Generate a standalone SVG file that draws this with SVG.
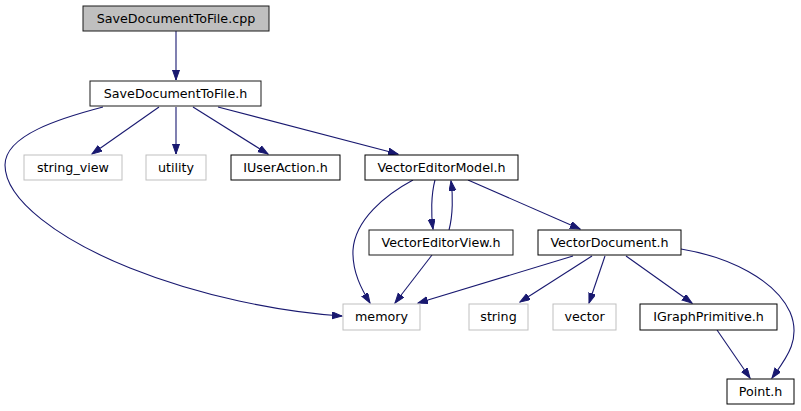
<svg xmlns="http://www.w3.org/2000/svg" width="801" height="411" viewBox="0 0 801 411">
<style>
.n rect{fill:#ffffff;stroke:#000000;stroke-width:1}
.n.g rect{stroke:#bfbfbf}
.n.d rect{stroke:#1a1a1a}
.n.s rect{fill:#bfbfbf;stroke:#1a1a1a}
.n text{font-family:"DejaVu Sans",sans-serif;font-size:12.7px;fill:#000000;text-anchor:middle}
.e path{fill:none;stroke:#191970;stroke-width:1.1}
</style>
<defs>
<marker id="a" markerUnits="userSpaceOnUse" markerWidth="11" markerHeight="8" refX="10" refY="3.5" orient="auto">
<path d="M0,0 L10,3.5 L0,7 z" fill="#191970" stroke="#191970" stroke-width="1"/>
</marker>
</defs>
<rect width="801" height="411" fill="#ffffff"/>
<g id="edges" class="e">
<path marker-end="url(#a)" d="M176,31 L176,80"/>
<path marker-end="url(#a)" d="M159,107 L92,154"/>
<path marker-end="url(#a)" d="M176,107 L176,154"/>
<path marker-end="url(#a)" d="M193,107 L268,154"/>
<path marker-end="url(#a)" d="M218,107 L398,154"/>
<path marker-end="url(#a)" d="M103,107 C61,118 5,135 5,165 C5,200 60,240 130,268 C200,296 280,312 342,316"/>
<path marker-end="url(#a)" d="M413,180 C385,195 355,220 353,250 C352,272 362,290 370,303"/>
<path marker-end="url(#a)" d="M435,180 C431,195 431,215 433,229"/>
<path marker-end="url(#a)" d="M449,230 C453,215 453,195 451,181"/>
<path marker-end="url(#a)" d="M468,180 L580,229"/>
<path marker-end="url(#a)" d="M432,255 L395,303"/>
<path marker-end="url(#a)" d="M573,256 L418,303"/>
<path marker-end="url(#a)" d="M592,256 L520,302"/>
<path marker-end="url(#a)" d="M605,256 L589,303"/>
<path marker-end="url(#a)" d="M626,256 L692,303"/>
<path marker-end="url(#a)" d="M681,249 C730,257 775,280 790,312 C802,340 785,360 772,378"/>
<path marker-end="url(#a)" d="M717,330 L750,378"/>
</g>
<g id="SaveDocumentToFile_cpp" class="n s"><rect x="83" y="6" width="186" height="25"/><text x="176" y="23">SaveDocumentToFile.cpp</text></g>
<g id="SaveDocumentToFile_h" class="n d"><rect x="90" y="81" width="171" height="25"/><text x="175.5" y="98">SaveDocumentToFile.h</text></g>
<g id="string_view" class="n g"><rect x="24" y="155" width="98" height="25"/><text x="73" y="172">string_view</text></g>
<g id="utility" class="n g"><rect x="146" y="155" width="60" height="25"/><text x="176" y="172">utility</text></g>
<g id="IUserAction_h" class="n"><rect x="231" y="155" width="109" height="25"/><text x="285.5" y="172">IUserAction.h</text></g>
<g id="VectorEditorModel_h" class="n"><rect x="365" y="155" width="153" height="25"/><text x="441.5" y="172">VectorEditorModel.h</text></g>
<g id="VectorEditorView_h" class="n d"><rect x="369" y="230" width="144" height="25"/><text x="441" y="247">VectorEditorView.h</text></g>
<g id="VectorDocument_h" class="n"><rect x="538" y="230" width="143" height="25"/><text x="609.5" y="247">VectorDocument.h</text></g>
<g id="memory" class="n g"><rect x="343" y="304" width="77" height="26"/><text x="381.5" y="321">memory</text></g>
<g id="string" class="n g"><rect x="469" y="304" width="59" height="26"/><text x="498.5" y="321">string</text></g>
<g id="vector" class="n g"><rect x="553" y="304" width="63" height="26"/><text x="584.5" y="321">vector</text></g>
<g id="IGraphPrimitive_h" class="n"><rect x="640" y="304" width="137" height="26"/><text x="708.5" y="321">IGraphPrimitive.h</text></g>
<g id="Point_h" class="n"><rect x="727" y="379" width="67" height="25"/><text x="760.5" y="396">Point.h</text></g>
</svg>
